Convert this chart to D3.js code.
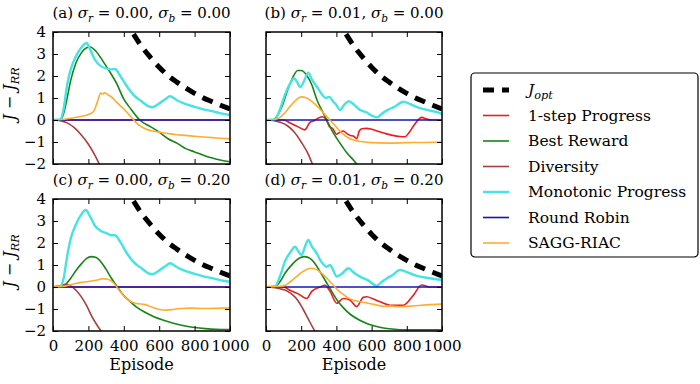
<!DOCTYPE html>
<html><head><meta charset="utf-8">
<script src="https://cdn.jsdelivr.net/npm/d3@7"></script>
<style>
body{margin:0;background:#fff;}
svg text{font-family:"DejaVu Serif",serif;fill:#000;}
</style></head>
<body><svg id="c" width="700" height="384"></svg>
<script>
// ---------- data ----------
const xTicks = [0,200,400,600,800,1000];
const yTicks = [-2,-1,0,1,2,3,4];
const seriesNames = ["J_opt","1-step Progress","Best Reward","Diversity","Monotonic Progress","Round Robin","SAGG-RIAC"];
const panelTitles = [["a","0.00","0.00"],["b","0.01","0.00"],["c","0.00","0.20"],["d","0.01","0.20"]];

const jopt = [[455,3.9],[500,3.35],[550,2.85],[600,2.4],[650,2.02],[700,1.72],[750,1.45],[800,1.21],[850,1.0],[900,0.83],[950,0.66],[1000,0.5]];
const roundRobin = [[0,0],[1000,0]];

// panel (a)
const a_step = [[0,0],[1000,0]];
const a_best = [[0,0],[40,0],[60,0.3],[80,1.0],[100,1.8],[130,2.6],[160,3.05],[190,3.28],[210,3.32],[240,3.15],[280,2.7],[320,2.2],[360,1.65],[400,0.95],[440,0.5],[490,0],[550,-0.3],[600,-0.55],[650,-0.85],[700,-1.05],[750,-1.3],[800,-1.45],[850,-1.6],[900,-1.73],[950,-1.83],[1000,-1.9]];
const a_div = [[0,0],[40,-0.03],[80,-0.13],[120,-0.35],[160,-0.68],[200,-1.1],[240,-1.65],[270,-2.15]];
const a_mono = [[0,0],[40,0.02],[60,0.5],[80,1.6],[100,2.3],[130,2.9],[160,3.3],[190,3.5],[210,3.2],[240,2.7],[270,2.45],[300,2.35],[330,2.3],[350,2.32],[380,2.0],[420,1.5],[460,1.1],[500,0.85],[540,0.62],[560,0.58],[600,0.75],[640,0.98],[660,1.08],[700,0.9],[750,0.72],[800,0.6],[850,0.48],[900,0.4],[950,0.3],[1000,0.23]];
const a_sagg = [[0,0],[50,0.02],[100,0.08],[150,0.15],[200,0.25],[230,0.4],[250,0.8],[270,1.22],[280,1.18],[290,1.24],[310,1.15],[330,1.05],[360,0.8],[400,0.5],[440,0.15],[480,-0.2],[520,-0.4],[560,-0.5],[600,-0.55],[650,-0.62],[700,-0.67],[750,-0.7],[800,-0.74],[850,-0.77],[900,-0.8],[950,-0.83],[1000,-0.86]];

// panel (b)
const b_step = [[0,0],[100,0],[140,-0.15],[180,-0.3],[220,-0.45],[235,-0.3],[250,-0.1],[270,-0.05],[300,0.1],[320,0.15],[340,0.05],[360,-0.3],[380,-0.4],[400,-0.65],[420,-0.55],[440,-0.5],[460,-0.62],[480,-0.7],[500,-0.75],[515,-0.85],[530,-0.5],[545,-0.4],[570,-0.38],[600,-0.42],[640,-0.52],[680,-0.62],[720,-0.7],[760,-0.75],[790,-0.76],[810,-0.6],[840,-0.25],[870,0.05],[885,0.12],[910,0.05],[940,0],[1000,0]];
const b_best = [[0,0],[40,0],[60,0.15],[90,0.6],[120,1.3],[150,1.9],[180,2.25],[200,2.25],[230,2.05],[260,1.6],[290,0.9],[320,0.4],[345,0],[380,-0.55],[420,-1.05],[460,-1.5],[500,-1.85],[520,-2.05]];
const b_div = [[0,0],[40,-0.02],[80,-0.1],[120,-0.25],[160,-0.55],[200,-1.0],[240,-1.55],[268,-2.1]];
const b_mono = [[0,0],[50,0.02],[80,0.5],[110,1.2],[140,1.7],[160,1.9],[175,1.75],[195,1.5],[215,1.75],[240,2.15],[260,1.85],[290,1.5],[310,1.25],[340,1.0],[360,1.05],[380,0.85],[400,0.68],[420,0.45],[445,0.7],[470,0.85],[500,0.7],[535,0.45],[570,0.35],[600,0.2],[630,0.12],[660,0.3],[690,0.45],[730,0.6],[780,0.83],[820,0.72],[870,0.55],[920,0.45],[960,0.38],[1000,0.28]];
const b_sagg = [[0,0],[50,0.02],[80,0.12],[110,0.35],[140,0.65],[170,0.9],[200,1.05],[230,1.0],[260,0.85],[300,0.55],[340,0.2],[380,-0.15],[420,-0.5],[460,-0.78],[500,-0.92],[540,-0.98],[600,-1.03],[700,-1.05],[800,-1.03],[900,-1.02],[1000,-1.0]];

// panel (c)
const c_step = [[0,0],[1000,0]];
const c_best = [[0,0],[40,0],[70,0.1],[100,0.4],[130,0.75],[160,1.05],[190,1.3],[215,1.38],[240,1.35],[270,1.15],[300,0.8],[330,0.4],[360,0.05],[390,-0.3],[430,-0.62],[470,-0.9],[520,-1.15],[570,-1.35],[620,-1.5],[680,-1.65],[740,-1.76],[800,-1.84],[860,-1.89],[920,-1.92],[1000,-1.93]];
const c_div = [[0,0],[40,0.05],[70,0.12],[100,0.05],[130,-0.15],[160,-0.45],[190,-0.85],[220,-1.35],[250,-1.75],[280,-2.1]];
const c_mono = [[0,0],[40,0.02],[60,0.4],[80,1.4],[100,2.2],[130,2.85],[160,3.3],[185,3.5],[210,3.2],[240,2.75],[270,2.55],[300,2.45],[330,2.35],[350,2.35],[380,2.05],[420,1.5],[460,1.1],[500,0.85],[540,0.62],[560,0.58],[600,0.75],[640,0.98],[660,1.08],[700,0.9],[750,0.72],[800,0.6],[850,0.48],[900,0.4],[950,0.3],[1000,0.24]];
const c_sagg = [[0,0],[50,0.02],[100,0.1],[150,0.2],[200,0.25],[250,0.32],[280,0.38],[310,0.35],[340,0.2],[370,-0.1],[400,-0.4],[430,-0.62],[470,-0.75],[520,-0.8],[560,-0.92],[600,-1.02],[640,-1.05],[680,-1.02],[720,-0.98],[780,-0.96],[850,-0.98],[920,-0.97],[1000,-0.95]];

// panel (d)
const d_step = [[0,0],[100,0],[136,-0.15],[180,-0.3],[231,-0.52],[260,-0.2],[307,0],[335,0.08],[364,-0.2],[402,-0.74],[439,-0.52],[477,-0.59],[515,-0.89],[553,-0.47],[572,-0.44],[610,-0.55],[648,-0.67],[705,-0.83],[780,-0.83],[837,-0.38],[884,0.09],[932,0],[1000,0]];
const d_best = [[0,0],[50,0.02],[80,0.25],[110,0.65],[140,0.95],[170,1.2],[200,1.35],[220,1.38],[250,1.3],[280,1.05],[310,0.65],[340,0.25],[370,-0.15],[400,-0.55],[440,-0.95],[480,-1.25],[530,-1.5],[580,-1.68],[640,-1.82],[700,-1.9],[760,-1.94],[850,-1.95],[1000,-1.95]];
const d_div = [[0,0],[40,-0.02],[80,-0.08],[120,-0.18],[150,-0.35],[180,-0.6],[210,-1.0],[240,-1.45],[270,-1.9],[285,-2.1]];
const d_mono = [[0,0],[50,0.02],[80,0.5],[110,1.2],[140,1.6],[165,1.83],[185,1.6],[203,1.45],[220,1.8],[240,2.14],[260,1.85],[288,1.53],[310,1.2],[345,0.92],[364,1.0],[385,0.7],[402,0.47],[430,0.6],[468,0.85],[500,0.65],[534,0.47],[580,0.3],[629,0.06],[660,0.25],[686,0.39],[720,0.55],[761,0.77],[800,0.68],[840,0.55],[875,0.47],[930,0.4],[998,0.32]];
const d_sagg = [[0,0],[60,0.02],[100,0.05],[140,0.25],[170,0.45],[200,0.65],[230,0.8],[260,0.85],[290,0.78],[320,0.6],[350,0.35],[380,0.1],[410,-0.15],[440,-0.35],[480,-0.55],[520,-0.65],[570,-0.72],[620,-0.8],[660,-0.88],[700,-0.86],[760,-0.9],[820,-0.87],[880,-0.83],[940,-0.8],[1000,-0.78]];

const panelData = [
  [jopt,a_step,a_best,a_div,a_mono,roundRobin,a_sagg],
  [jopt,b_step,b_best,b_div,b_mono,roundRobin,b_sagg],
  [jopt,c_step,c_best,c_div,c_mono,roundRobin,c_sagg],
  [jopt,d_step,d_best,d_div,d_mono,roundRobin,d_sagg]
];

// ---------- style ----------
const colors = ["#000000","#ee1c1c","#148614","#a8403f","#45e3e3","#1414b4","#ffad2e"];
const widths = [5,1.6,1.6,1.6,2.4,1.6,1.6];
const dashes = ["11,8",null,null,null,null,null,null];
const FS = 15;

const svg = d3.select("#c");
const boxes = [
  {x0:53,x1:230,y0:32,y1:164},
  {x0:266,x1:442,y0:32,y1:164},
  {x0:53,x1:230,y0:199,y1:331},
  {x0:266,x1:442,y0:199,y1:331}
];

boxes.forEach((b,i)=>{
  const x = d3.scaleLinear().domain([0,1000]).range([b.x0,b.x1]);
  const y = d3.scaleLinear().domain([-2,4]).range([b.y1,b.y0]);
  const g = svg.append("g");
  const cid = "clip"+i;
  svg.append("clipPath").attr("id",cid).append("rect")
    .attr("x",b.x0).attr("y",b.y0).attr("width",b.x1-b.x0).attr("height",b.y1-b.y0);
  const line = d3.line().x(d=>x(d[0])).y(d=>y(d[1])).curve(d3.curveMonotoneX);
  const lg = g.append("g").attr("clip-path",`url(#${cid})`);
  panelData[i].forEach((s,k)=>{
    lg.append("path").attr("d",line(s)).attr("fill","none")
      .attr("stroke",colors[k]).attr("stroke-width",widths[k])
      .attr("stroke-dasharray",dashes[k]).attr("stroke-linejoin","round");
  });
  const bottom = i>=2;
  const left = i%2===0;
  const ax = d3.axisBottom(x).tickValues(xTicks).tickSizeInner(-5).tickSizeOuter(0).tickPadding(9).tickFormat(d3.format("d"));
  const axT = d3.axisTop(x).tickValues(xTicks).tickSizeInner(-5).tickSizeOuter(0).tickFormat("");
  const ay = d3.axisLeft(y).tickValues(yTicks).tickSizeInner(-5).tickSizeOuter(0).tickPadding(7)
      .tickFormat(d=> d<0 ? "\u2212"+Math.abs(d) : d);
  const ayR = d3.axisRight(y).tickValues(yTicks).tickSizeInner(-5).tickSizeOuter(0).tickFormat("");
  const gx = g.append("g").attr("transform",`translate(0,${b.y1})`).call(ax);
  if(!bottom) gx.selectAll("text").remove();
  g.append("g").attr("transform",`translate(0,${b.y0})`).call(axT);
  const gy = g.append("g").attr("transform",`translate(${b.x0},0)`).call(ay);
  if(!left) gy.selectAll("text").remove();
  g.append("g").attr("transform",`translate(${b.x1},0)`).call(ayR);
  g.selectAll(".domain").remove();
  g.selectAll(".tick line").attr("stroke","#000").attr("stroke-width",1);
  g.selectAll(".tick text").attr("font-size",FS).attr("font-family","DejaVu Serif").attr("fill","#000");
  g.append("rect").attr("x",b.x0).attr("y",b.y0).attr("width",b.x1-b.x0).attr("height",b.y1-b.y0)
    .attr("fill","none").attr("stroke","#000").attr("stroke-width",1.5);

  const t = panelTitles[i];
  const tt = svg.append("text").attr("x",(b.x0+b.x1)/2).attr("y",b.y0-14)
    .attr("text-anchor","middle").attr("font-size",FS);
  tt.append("tspan").text(`(${t[0]}) `);
  tt.append("tspan").attr("font-style","italic").text("σ");
  tt.append("tspan").attr("font-style","italic").attr("font-size",FS*0.7).attr("dy",4).text("r");
  tt.append("tspan").attr("dy",-4).text(` = ${t[1]}, `);
  tt.append("tspan").attr("font-style","italic").text("σ");
  tt.append("tspan").attr("font-style","italic").attr("font-size",FS*0.7).attr("dy",4).text("b");
  tt.append("tspan").attr("dy",-4).text(` = ${t[2]}`);

  if(left){
    const cy = (b.y0+b.y1)/2 - 4;
    const yl = svg.append("text").attr("transform",`translate(15,${cy}) rotate(-90)`)
      .attr("text-anchor","middle").attr("font-size",FS+1);
    yl.append("tspan").attr("font-style","italic").text("J");
    yl.append("tspan").text(" \u2212 ");
    yl.append("tspan").attr("font-style","italic").text("J");
    yl.append("tspan").attr("font-style","italic").attr("font-size",FS*0.75).attr("dy",4).text("RR");
  }
  if(bottom){
    svg.append("text").attr("x",(b.x0+b.x1)/2).attr("y",370).attr("text-anchor","middle")
      .attr("font-size",FS+1).text("Episode");
  }
});

// legend
const lgX = 471, lgY = 73;
svg.append("rect").attr("x",lgX).attr("y",lgY).attr("width",227).attr("height",184).attr("rx",4)
  .attr("fill","#fff").attr("stroke","#000").attr("stroke-width",1.2);
seriesNames.forEach((n,k)=>{
  const yy = 90 + k*25.5;
  svg.append("line").attr("x1",483).attr("x2",509).attr("y1",yy).attr("y2",yy)
    .attr("stroke",colors[k]).attr("stroke-width",widths[k]).attr("stroke-dasharray",dashes[k]);
  const tx = svg.append("text").attr("x",528).attr("y",yy+5).attr("font-size",FS+0.5);
  if(k===0){
    tx.append("tspan").attr("font-style","italic").text("J");
    tx.append("tspan").attr("font-style","italic").attr("font-size",FS*0.75).attr("dy",4).text("opt");
  } else tx.text(n);
});
</script></body></html>
